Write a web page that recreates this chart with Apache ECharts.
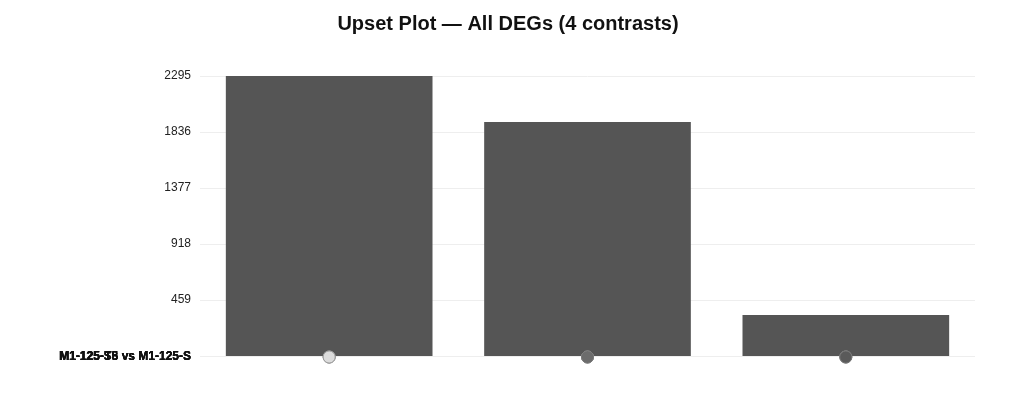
<!DOCTYPE html>
<html>
<head>
<meta charset="utf-8">
<script src="https://cdn.jsdelivr.net/npm/echarts@6/dist/echarts.min.js"></script>
<style>html,body{margin:0;padding:0;background:#fff;}#chart{width:1016px;height:420px;}</style>
</head>
<body>
<div id="chart"></div>
<script>
const titleText = 'Upset Plot — All DEGs (4 contrasts)';
const intersections = ['I1', 'I2', 'I3'];
const intersectionCounts = [2295, 1918, 336];
const contrasts = ['M1-125-T5 vs M1-125-S', 'M1-125-S5 vs M1-125-S', 'M1-125-T8 vs M1-125-S', 'M1-125-S8 vs M1-125-S'];
// membership[row][col] : 1 = contrast belongs to intersection
const membership = [
  [1, 0, 0],
  [0, 1, 0],
  [0, 0, 1],
  [0, 1, 1]
];
const yTicks = [0, 459, 918, 1377, 1836, 2295];

const dots = [];
contrasts.forEach((c, r) => {
  intersections.forEach((s, ci) => {
    dots.push({ value: [ci, r], member: membership[r][ci] });
  });
});

const chart = echarts.init(document.getElementById('chart'));
chart.setOption({
  animation: false,
  title: {
    text: titleText, left: 'center', top: 9,
    textStyle: { fontFamily: 'Liberation Sans, Arial, sans-serif', fontSize: 20, fontWeight: 'bold', color: '#111' }
  },
  grid: [
    { left: 200, right: 41, top: 76, bottom: 64 },
    { left: 200, right: 41, top: 357, height: 0.01 }
  ],
  xAxis: [
    { type: 'category', gridIndex: 0, data: intersections, axisLine: { show: false }, axisTick: { show: false }, axisLabel: { show: false } },
    { type: 'category', gridIndex: 1, data: intersections, axisLine: { show: false }, axisTick: { show: false }, axisLabel: { show: false } }
  ],
  yAxis: [
    {
      type: 'value', gridIndex: 0, min: yTicks[0], max: yTicks[yTicks.length - 1], interval: 459,
      axisLine: { show: false }, axisTick: { show: false },
      axisLabel: { fontFamily: 'Liberation Sans, Arial, sans-serif', fontSize: 12, color: '#222', margin: 9,
        formatter: v => (v === 0 ? '' : String(v)) },
      splitLine: { lineStyle: { color: '#eee' } }
    },
    {
      type: 'category', gridIndex: 1, data: contrasts,
      axisLine: { show: false }, axisTick: { show: false }, splitLine: { show: false },
      axisLabel: { interval: 0, hideOverlap: false, fontFamily: 'Liberation Sans, Arial, sans-serif', fontSize: 12, fontWeight: 'bold', color: '#111', margin: 9 }
    }
  ],
  series: [
    {
      type: 'bar', xAxisIndex: 0, yAxisIndex: 0, data: intersectionCounts, barWidth: '80%',
      itemStyle: { color: '#555555' }
    },
    {
      type: 'scatter', xAxisIndex: 1, yAxisIndex: 1, symbolSize: 12, z: 5,
      data: dots.map(d => ({
        value: d.value,
        itemStyle: d.member
          ? { color: '#555555', borderColor: '#777', borderWidth: 1 }
          : { color: '#dddddd', borderColor: '#999', borderWidth: 1 }
      }))
    }
  ]
});
</script>
</body>
</html>
